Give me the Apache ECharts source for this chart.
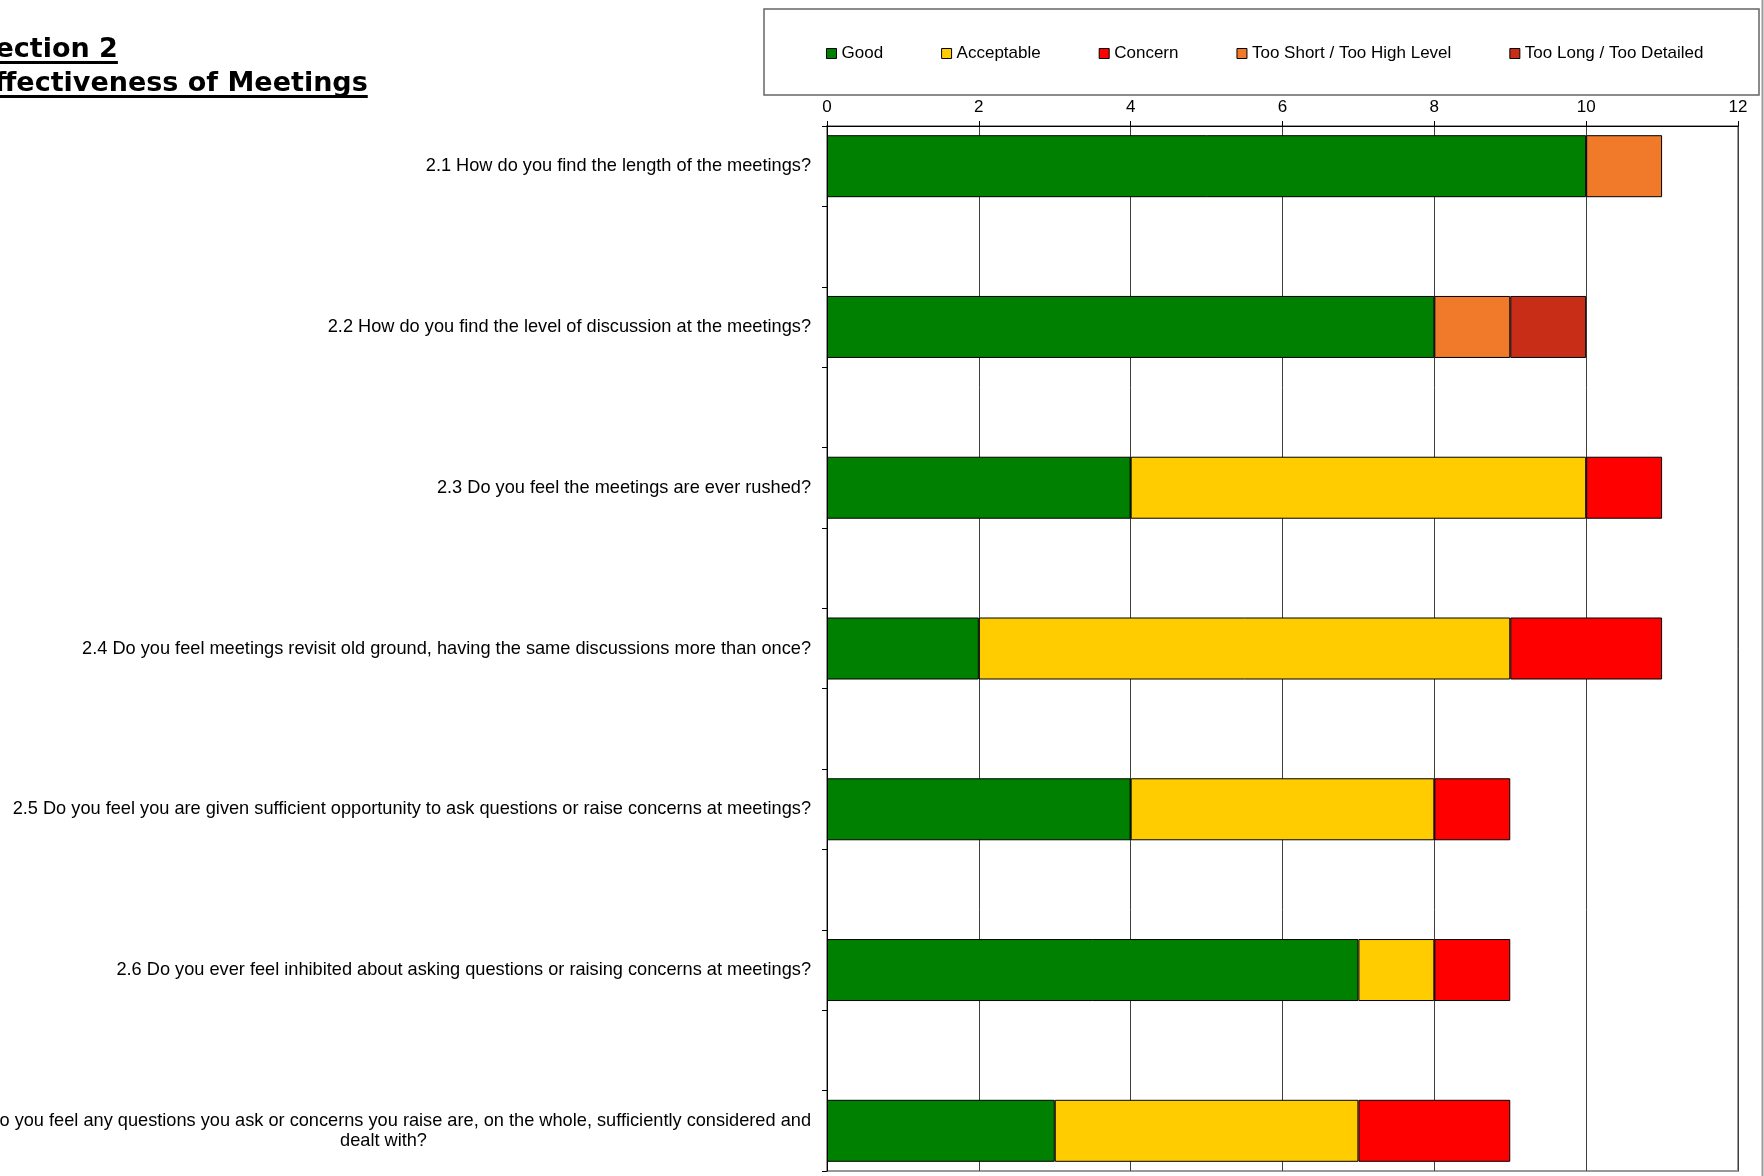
<!DOCTYPE html>
<html><head><meta charset="utf-8">
<script src="https://cdn.jsdelivr.net/npm/echarts@6/dist/echarts.min.js"></script>
<style>html,body{margin:0;padding:0;background:#fff}#c{width:1764px;height:1176px}</style>
</head><body><div id="c"></div>
<script>
// ---------- data ----------
const questions = [
  '2.1 How do you find the length of the meetings?',
  '2.2 How do you find the level of discussion at the meetings?',
  '2.3 Do you feel the meetings are ever rushed?',
  '2.4 Do you feel meetings revisit old ground, having the same discussions more than once?',
  '2.5 Do you feel you are given sufficient opportunity to ask questions or raise concerns at meetings?',
  '2.6 Do you ever feel inhibited about asking questions or raising concerns at meetings?',
  '2.7 Do you feel any questions you ask or concerns you raise are, on the whole, sufficiently considered and\ndealt with?'
];
const seriesNames = ['Good', 'Acceptable', 'Concern', 'Too Short / Too High Level', 'Too Long / Too Detailed'];
const good       = [10, 8, 4, 2, 4, 7, 3];
const acceptable = [0, 0, 6, 7, 4, 1, 4];
const concern    = [0, 0, 1, 2, 1, 1, 2];
const tooShort   = [1, 1, 0, 0, 0, 0, 0];
const tooLong    = [0, 1, 0, 0, 0, 0, 0];
const seriesColors = ['#008000', '#FFCC00', '#FF0000', '#F07A2A', '#C82E17'];
const xMin = 0, xMax = 12, xInterval = 2;
const titleLines = ['Section 2', 'Effectiveness of Meetings'];

// ---------- build ----------
// each question is followed by an empty spacer row (as in the original sheet)
function interleave(arr, blank) {
  const out = [];
  arr.forEach((v, i) => { out.push(v); if (i < arr.length - 1) out.push(blank); });
  return out;
}
const categories = interleave(questions, '');
const allValues = [good, acceptable, concern, tooShort, tooLong];
const series = seriesNames.map((name, k) => ({
  name,
  type: 'bar',
  stack: 'total',
  barWidth: 62,
  data: interleave(allValues[k].map(v => (v === 0 ? null : v)), null),
  itemStyle: { color: seriesColors[k], borderColor: '#000', borderWidth: 1 }
}));

const titleFont = 'bold 27px "DejaVu Sans"';
const ctx = document.createElement('canvas').getContext('2d');
ctx.font = titleFont;
const titleX = -24;
const w1 = ctx.measureText(titleLines[0]).width;
const w2 = ctx.measureText(titleLines[1]).width;

const chart = echarts.init(document.getElementById('c'), null, { renderer: 'canvas' });
chart.setOption({
  animation: false,
  backgroundColor: '#fff',
  textStyle: { fontFamily: '"Liberation Sans", Arial, sans-serif' },
  grid: { left: 827, right: 26, top: 126, bottom: 5, containLabel: false, outerBoundsMode: 'none',
          show: true, borderColor: '#999', borderWidth: 2, backgroundColor: 'transparent' },
  legend: {
    left: 821, top: 40, itemWidth: 10, itemHeight: 10, itemGap: 58, icon: 'rect',
    itemStyle: { borderColor: '#000', borderWidth: 1 },
    textStyle: { fontSize: 17, color: '#000', fontFamily: '"Liberation Sans", Arial, sans-serif' },
    data: seriesNames
  },
  xAxis: {
    type: 'value', position: 'top', min: xMin, max: xMax, interval: xInterval,
    axisLine: { show: true, lineStyle: { color: '#000', width: 1 } },
    axisTick: { show: true, length: 5, lineStyle: { color: '#000' } },
    axisLabel: { fontSize: 17, color: '#000', margin: 10 },
    splitLine: { show: true, lineStyle: { color: '#404040', width: 1 } }
  },
  yAxis: {
    type: 'category', inverse: true, data: categories,
    axisLine: { show: true, lineStyle: { color: '#000', width: 1 } },
    axisTick: { show: true, length: 5, interval: 0, lineStyle: { color: '#000' } },
    axisLabel: {
      interval: 0, fontSize: 18.2, color: '#000', margin: 16, lineHeight: 20,
      formatter: v => v.indexOf('\n') >= 0 ? v.split('\n').map(l => '{c|' + l + '}').join('\n') : v,
      rich: { c: { align: 'center', fontSize: 18.2, lineHeight: 20, color: '#000',
                   fontFamily: '"Liberation Sans", Arial, sans-serif' } }
    },
    splitLine: { show: false }
  },
  series,
  graphic: [
    { type: 'rect', shape: { x: 764, y: 9, width: 995, height: 86 },
      style: { fill: 'none', stroke: '#666', lineWidth: 1.5 }, z: -1 },
    { type: 'line', shape: { x1: 1762.5, y1: 0, x2: 1762.5, y2: 1176 },
      style: { stroke: '#999', lineWidth: 2 } },
    { type: 'text', x: titleX, y: 50,
      style: { text: titleLines[0], font: titleFont, fill: '#000', textVerticalAlign: 'middle' } },
    { type: 'rect', shape: { x: titleX, y: 61, width: w1, height: 3 }, style: { fill: '#000' } },
    { type: 'text', x: titleX, y: 84,
      style: { text: titleLines[1], font: titleFont, fill: '#000', textVerticalAlign: 'middle' } },
    { type: 'rect', shape: { x: titleX, y: 95, width: w2, height: 3 }, style: { fill: '#000' } }
  ]
});
</script>
</body></html>
